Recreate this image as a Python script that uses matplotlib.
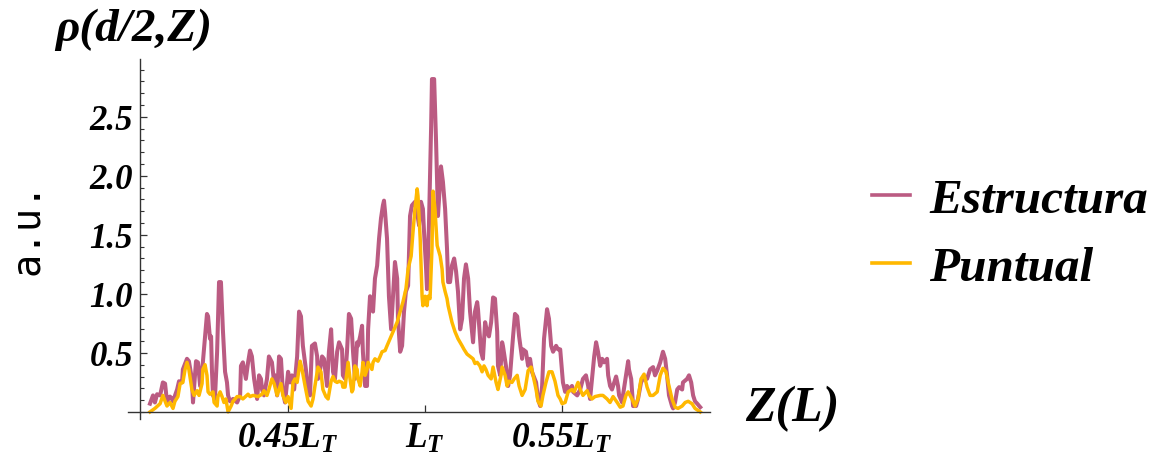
import matplotlib
matplotlib.use("Agg")
import matplotlib.pyplot as plt
from matplotlib.ticker import MultipleLocator, FixedLocator

# Z in units of L, rho in a.u.
z_estructura = [
    0.3996, 0.4007, 0.4014, 0.4022, 0.4033, 0.4043, 0.4051, 0.4058, 0.4069, 0.4076,
    0.4080, 0.4095, 0.4102, 0.4113, 0.4116, 0.4131, 0.4138, 0.4149, 0.4153, 0.4160,
    0.4164, 0.4171, 0.4179, 0.4186, 0.4189, 0.4197, 0.4204, 0.4208, 0.4215, 0.4219,
    0.4222, 0.4226, 0.4233, 0.4241, 0.4248, 0.4255, 0.4262, 0.4270, 0.4277, 0.4281,
    0.4288, 0.4299, 0.4314, 0.4325, 0.4328, 0.4335, 0.4346, 0.4354, 0.4361, 0.4368,
    0.4376, 0.4387, 0.4394, 0.4401, 0.4405, 0.4412, 0.4423, 0.4430, 0.4441, 0.4449,
    0.4452, 0.4460, 0.4467, 0.4474, 0.4481, 0.4489, 0.4496, 0.4500, 0.4507, 0.4514,
    0.4522, 0.4533, 0.4540, 0.4547, 0.4554, 0.4565, 0.4573, 0.4580, 0.4587, 0.4598,
    0.4606, 0.4609, 0.4617, 0.4624, 0.4631, 0.4642, 0.4649, 0.4657, 0.4664, 0.4671,
    0.4679, 0.4686, 0.4697, 0.4700, 0.4708, 0.4715, 0.4722, 0.4730, 0.4737, 0.4744,
    0.4752, 0.4755, 0.4763, 0.4770, 0.4773, 0.4781, 0.4788, 0.4792, 0.4799, 0.4806,
    0.4810, 0.4817, 0.4825, 0.4832, 0.4839, 0.4846, 0.4850, 0.4854, 0.4861, 0.4868,
    0.4876, 0.4883, 0.4890, 0.4898, 0.4901, 0.4909, 0.4916, 0.4923, 0.4930, 0.4938,
    0.4945, 0.4952, 0.4963, 0.4974, 0.4978, 0.4985, 0.4992, 0.4996, 0.5003, 0.5007,
    0.5014, 0.5022, 0.5025, 0.5033, 0.5040, 0.5047, 0.5051, 0.5058, 0.5065, 0.5073,
    0.5080, 0.5084, 0.5091, 0.5098, 0.5106, 0.5113, 0.5120, 0.5128, 0.5135, 0.5142,
    0.5149, 0.5157, 0.5164, 0.5175, 0.5182, 0.5190, 0.5193, 0.5204, 0.5211, 0.5219,
    0.5226, 0.5233, 0.5241, 0.5248, 0.5255, 0.5263, 0.5266, 0.5274, 0.5281, 0.5284,
    0.5295, 0.5303, 0.5310, 0.5321, 0.5328, 0.5336, 0.5343, 0.5354, 0.5357, 0.5368,
    0.5376, 0.5383, 0.5390, 0.5405, 0.5412, 0.5420, 0.5427, 0.5434, 0.5445, 0.5452,
    0.5460, 0.5467, 0.5478, 0.5485, 0.5493, 0.5503, 0.5511, 0.5518, 0.5525, 0.5536,
    0.5540, 0.5555, 0.5566, 0.5576, 0.5587, 0.5595, 0.5602, 0.5609, 0.5617, 0.5624,
    0.5631, 0.5639, 0.5646, 0.5653, 0.5664, 0.5668, 0.5675, 0.5682, 0.5690, 0.5697,
    0.5704, 0.5708, 0.5719, 0.5722, 0.5733, 0.5741, 0.5744, 0.5752, 0.5759, 0.5770,
    0.5777, 0.5788, 0.5795, 0.5810, 0.5821, 0.5832, 0.5839, 0.5847, 0.5858, 0.5868,
    0.5876, 0.5883, 0.5890, 0.5901, 0.5905, 0.5912, 0.5920, 0.5927, 0.5938, 0.5941,
    0.5956, 0.5963, 0.5971, 0.5978, 0.5985, 0.5993, 0.6004,
]
rho_estructura = [
    0.07, 0.14, 0.08, 0.15, 0.14, 0.25, 0.24, 0.09, 0.13, 0.11,
    0.09, 0.19, 0.26, 0.25, 0.36, 0.45, 0.43, 0.28, 0.08, 0.31,
    0.43, 0.42, 0.22, 0.36, 0.42, 0.64, 0.83, 0.81, 0.62, 0.64,
    0.36, 0.14, 0.11, 0.51, 1.10, 1.10, 0.70, 0.34, 0.25, 0.14,
    0.09, 0.11, 0.08, 0.14, 0.39, 0.42, 0.28, 0.42, 0.52, 0.47,
    0.28, 0.11, 0.31, 0.28, 0.19, 0.14, 0.28, 0.47, 0.42, 0.25,
    0.31, 0.14, 0.47, 0.45, 0.17, 0.08, 0.25, 0.34, 0.25, 0.31,
    0.19, 0.47, 0.85, 0.81, 0.56, 0.36, 0.17, 0.14, 0.56, 0.58,
    0.47, 0.28, 0.36, 0.47, 0.45, 0.22, 0.51, 0.70, 0.34, 0.28,
    0.51, 0.59, 0.53, 0.31, 0.28, 0.51, 0.83, 0.79, 0.51, 0.28,
    0.59, 0.56, 0.64, 0.73, 0.51, 0.22, 0.22, 0.70, 0.98, 0.90,
    0.85, 1.13, 1.24, 1.47, 1.64, 1.75, 1.79, 1.69, 1.47, 0.98,
    0.70, 0.98, 1.27, 1.13, 0.79, 0.51, 0.56, 0.85, 1.02, 1.07,
    1.66, 1.75, 1.78, 1.64, 1.58, 1.78, 1.72, 1.53, 1.24, 1.04,
    1.58, 2.42, 2.82, 2.82, 2.29, 1.66, 1.81, 2.08, 1.95, 1.72,
    1.38, 1.10, 1.10, 1.24, 1.30, 1.19, 1.02, 0.70, 0.79, 1.13,
    1.25, 1.13, 0.85, 0.59, 0.85, 0.93, 0.87, 0.51, 0.45, 0.76,
    0.68, 0.64, 0.76, 0.97, 0.96, 0.68, 0.39, 0.31, 0.59, 0.56,
    0.39, 0.22, 0.31, 0.64, 0.83, 0.81, 0.64, 0.45, 0.53, 0.51,
    0.39, 0.45, 0.34, 0.25, 0.11, 0.05, 0.22, 0.62, 0.87, 0.79,
    0.56, 0.51, 0.56, 0.53, 0.53, 0.25, 0.17, 0.22, 0.19, 0.22,
    0.17, 0.14, 0.19, 0.28, 0.31, 0.22, 0.11, 0.28, 0.47, 0.59,
    0.51, 0.39, 0.45, 0.42, 0.45, 0.31, 0.22, 0.19, 0.25, 0.30,
    0.22, 0.14, 0.08, 0.14, 0.31, 0.43, 0.36, 0.28, 0.05, 0.05,
    0.11, 0.25, 0.28, 0.28, 0.36, 0.38, 0.31, 0.35, 0.42, 0.51,
    0.45, 0.31, 0.14, 0.05, 0.03, 0.08, 0.19, 0.21, 0.19, 0.25,
    0.28, 0.31, 0.25, 0.14, 0.09, 0.07, 0.04,
]

z_puntual = [
    0.3996, 0.4014, 0.4033, 0.4043, 0.4058, 0.4069, 0.4080, 0.4087, 0.4098, 0.4106,
    0.4116, 0.4124, 0.4131, 0.4138, 0.4149, 0.4157, 0.4168, 0.4175, 0.4186, 0.4189,
    0.4197, 0.4204, 0.4208, 0.4215, 0.4226, 0.4230, 0.4241, 0.4244, 0.4252, 0.4259,
    0.4266, 0.4273, 0.4281, 0.4292, 0.4299, 0.4314, 0.4325, 0.4335, 0.4354, 0.4361,
    0.4372, 0.4390, 0.4405, 0.4412, 0.4423, 0.4430, 0.4441, 0.4449, 0.4460, 0.4467,
    0.4474, 0.4481, 0.4492, 0.4500, 0.4511, 0.4518, 0.4525, 0.4533, 0.4544, 0.4551,
    0.4562, 0.4573, 0.4584, 0.4591, 0.4598, 0.4609, 0.4620, 0.4627, 0.4638, 0.4646,
    0.4657, 0.4664, 0.4671, 0.4679, 0.4686, 0.4697, 0.4700, 0.4708, 0.4715, 0.4719,
    0.4726, 0.4733, 0.4737, 0.4744, 0.4752, 0.4755, 0.4763, 0.4770, 0.4773, 0.4781,
    0.4788, 0.4792, 0.4799, 0.4806, 0.4810, 0.4817, 0.4828, 0.4836, 0.4843, 0.4854,
    0.4861, 0.4872, 0.4883, 0.4898, 0.4909, 0.4919, 0.4930, 0.4938, 0.4949, 0.4956,
    0.4963, 0.4971, 0.4974, 0.4982, 0.4989, 0.4992, 0.5000, 0.5007, 0.5011, 0.5018,
    0.5025, 0.5029, 0.5036, 0.5044, 0.5055, 0.5062, 0.5065, 0.5073, 0.5080, 0.5084,
    0.5098, 0.5109, 0.5120, 0.5135, 0.5142, 0.5153, 0.5164, 0.5175, 0.5182, 0.5190,
    0.5200, 0.5208, 0.5215, 0.5222, 0.5230, 0.5241, 0.5248, 0.5259, 0.5266, 0.5277,
    0.5281, 0.5292, 0.5299, 0.5306, 0.5317, 0.5325, 0.5336, 0.5343, 0.5354, 0.5365,
    0.5376, 0.5387, 0.5394, 0.5405, 0.5412, 0.5423, 0.5430, 0.5441, 0.5452, 0.5463,
    0.5474, 0.5485, 0.5493, 0.5500, 0.5511, 0.5522, 0.5536, 0.5544, 0.5558, 0.5566,
    0.5576, 0.5591, 0.5598, 0.5609, 0.5620, 0.5639, 0.5649, 0.5664, 0.5675, 0.5686,
    0.5701, 0.5712, 0.5722, 0.5733, 0.5741, 0.5755, 0.5766, 0.5777, 0.5788, 0.5799,
    0.5810, 0.5821, 0.5832, 0.5847, 0.5858, 0.5868, 0.5879, 0.5887, 0.5901, 0.5912,
    0.5923, 0.5938, 0.5949, 0.5960, 0.5974, 0.5985, 0.6004,
]
rho_puntual = [
    0.00, 0.03, 0.07, 0.14, 0.05, 0.08, 0.03, 0.09, 0.13, 0.24,
    0.25, 0.36, 0.42, 0.36, 0.19, 0.14, 0.18, 0.14, 0.24, 0.36,
    0.40, 0.31, 0.17, 0.15, 0.17, 0.08, 0.05, 0.13, 0.17, 0.13,
    0.08, 0.11, 0.00, 0.05, 0.09, 0.13, 0.13, 0.11, 0.15, 0.13,
    0.14, 0.13, 0.15, 0.18, 0.14, 0.19, 0.28, 0.24, 0.14, 0.19,
    0.24, 0.14, 0.08, 0.13, 0.03, 0.25, 0.28, 0.25, 0.43, 0.36,
    0.22, 0.09, 0.05, 0.11, 0.22, 0.38, 0.34, 0.19, 0.13, 0.11,
    0.26, 0.30, 0.26, 0.25, 0.26, 0.25, 0.21, 0.21, 0.34, 0.42,
    0.28, 0.17, 0.19, 0.39, 0.36, 0.28, 0.22, 0.34, 0.42, 0.31,
    0.36, 0.42, 0.39, 0.36, 0.42, 0.45, 0.43, 0.47, 0.51, 0.52,
    0.56, 0.62, 0.68, 0.76, 0.85, 0.93, 1.04, 1.21, 1.32, 1.53,
    1.72, 1.89, 1.83, 1.47, 0.98, 0.90, 0.98, 0.90, 0.98, 0.96,
    1.38, 1.87, 1.72, 1.41, 1.32, 1.21, 1.10, 1.02, 0.96, 0.90,
    0.76, 0.68, 0.62, 0.56, 0.53, 0.49, 0.47, 0.45, 0.41, 0.42,
    0.39, 0.34, 0.39, 0.36, 0.31, 0.28, 0.38, 0.25, 0.19, 0.31,
    0.38, 0.31, 0.22, 0.26, 0.25, 0.28, 0.31, 0.22, 0.14, 0.19,
    0.35, 0.38, 0.31, 0.19, 0.09, 0.05, 0.14, 0.25, 0.34, 0.34,
    0.26, 0.14, 0.11, 0.07, 0.08, 0.17, 0.19, 0.17, 0.25, 0.19,
    0.14, 0.18, 0.14, 0.11, 0.13, 0.14, 0.14, 0.11, 0.08, 0.13,
    0.08, 0.04, 0.05, 0.14, 0.17, 0.11, 0.05, 0.11, 0.28, 0.32,
    0.21, 0.14, 0.14, 0.17, 0.31, 0.37, 0.34, 0.25, 0.11, 0.04,
    0.03, 0.05, 0.08, 0.09, 0.07, 0.03, 0.00,
]

x_ticks = [0.45, 0.50, 0.55]
x_tick_labels = [r"$0.45L_T$", r"$L_T$", r"$0.55L_T$"]
y_ticks = [0.5, 1.0, 1.5, 2.0, 2.5]
y_tick_labels = ["0.5", "1.0", "1.5", "2.0", "2.5"]

plt.rcParams["mathtext.fontset"] = "custom"
plt.rcParams["mathtext.rm"] = "Liberation Serif:bold:italic"
plt.rcParams["mathtext.it"] = "Liberation Serif:bold:italic"
plt.rcParams["mathtext.bf"] = "Liberation Serif:bold:italic"

serif_bi = dict(family="Liberation Serif", weight="bold", style="italic")
pink = "#bb5b82"
gold = "#ffb800"
axis_col = "#333333"

fig = plt.figure(figsize=(11.62, 4.64), dpi=100)
ax = fig.add_axes([0.1102, 0.0948, 0.5009, 0.7759])

ax.plot(z_estructura, rho_estructura, color=pink, lw=2.9, label="Estructura",
        solid_joinstyle="round")
ax.plot(z_puntual, rho_puntual, color=gold, lw=2.5, label="Puntual",
        solid_joinstyle="round")

ax.set_xlim(0.3916, 0.6040)
ax.set_ylim(-0.06, 2.99)

for s in ["top", "right"]:
    ax.spines[s].set_visible(False)
ax.spines["left"].set_position(("data", 0.3960))
ax.spines["bottom"].set_position(("data", 0.0))
for s in ["left", "bottom"]:
    ax.spines[s].set_color(axis_col)
    ax.spines[s].set_linewidth(1.0)

ax.xaxis.set_major_locator(FixedLocator(x_ticks))
ax.set_xticklabels(x_tick_labels)
ax.yaxis.set_major_locator(FixedLocator(y_ticks))
ax.set_yticklabels(y_tick_labels)
ax.yaxis.set_minor_locator(MultipleLocator(0.1))

ax.tick_params(axis="both", which="major", direction="in", length=5, width=0.9,
               color=axis_col)
ax.tick_params(axis="y", which="minor", direction="in", length=3, width=0.8,
               color=axis_col)
ax.tick_params(axis="y", which="major", pad=5)
ax.tick_params(axis="x", which="major", pad=6)
for lab in ax.get_yticklabels():
    lab.set_fontproperties(matplotlib.font_manager.FontProperties(size=25, **serif_bi))
for lab in ax.get_xticklabels():
    lab.set_fontsize(25.5)

fig.text(0.0473, 0.935, "\u03c1(d/2,Z)", fontsize=34, va="center", ha="left", **serif_bi)
fig.text(0.641, 0.118, "Z(L)", fontsize=36, va="center", ha="left", **serif_bi)
fig.text(0.023, 0.509, "a.u.", fontsize=28, family="DejaVu Sans Mono",
         rotation=90, va="center", ha="center")

leg = fig.legend(loc="upper left", bbox_to_anchor=(0.7504, 0.615), frameon=False,
                 prop=matplotlib.font_manager.FontProperties(size=35.5, **serif_bi),
                 handlelength=0.78, handletextpad=0.38, labelspacing=0.48,
                 borderpad=0, borderaxespad=0)
for line in leg.get_lines():
    line.set_linewidth(2.6)

fig.savefig("out.png", dpi=100)
